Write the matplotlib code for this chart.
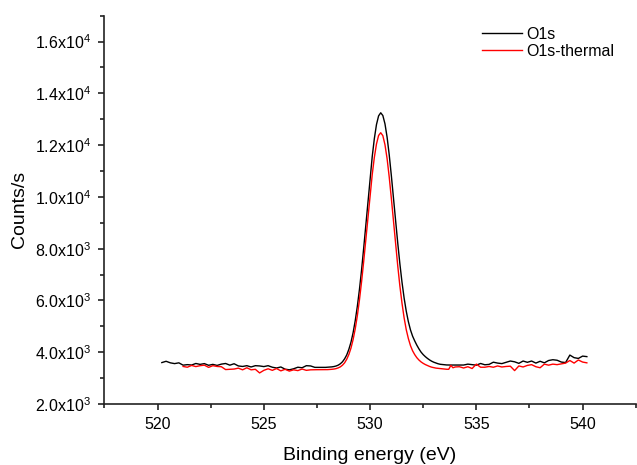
import numpy as np
import matplotlib
matplotlib.use("Agg")
import matplotlib.pyplot as plt
from matplotlib.ticker import MultipleLocator, FuncFormatter

plt.rcParams['font.family'] = ['Liberation Sans', 'DejaVu Sans']
plt.rcParams['mathtext.fontset'] = 'custom'
plt.rcParams['mathtext.rm'] = 'Liberation Sans'

# ---------------- data (binding energy in eV, counts/s) ----------------
x_black_left = np.round(np.arange(520.2, 527.21, 0.2), 2)
x_red_left = np.round(np.arange(521.2, 527.21, 0.2), 2)
x_peak = np.round(np.arange(527.4, 534.01, 0.1), 2)
x_right = np.round(np.arange(534.2, 540.21, 0.2), 2)

o1s_left = [3600, 3650, 3590, 3560, 3590, 3500, 3520, 3505, 3565, 3530,
            3560, 3495, 3530, 3490, 3540, 3565, 3500, 3555, 3470, 3450,
            3480, 3430, 3480, 3470, 3445, 3480, 3420, 3390, 3430, 3345,
            3320, 3360, 3420, 3400, 3480, 3470]

o1s_peak = [3415, 3415, 3415, 3415, 3415, 3415, 3421, 3426, 3434, 3447,
            3468, 3501, 3554, 3630, 3744, 3894, 4111, 4387, 4752, 5215,
            5775, 6433, 7189, 8034, 8926, 9839, 10733, 11557, 12254, 12795,
            13131, 13250, 13144, 12823, 12307, 11624, 10823, 9954, 9076, 8226,
            7425, 6713, 6099, 5592, 5183, 4862, 4620, 4436, 4271, 4127,
            4002, 3906, 3828, 3760, 3701, 3652, 3613, 3583, 3554, 3534,
            3525, 3515, 3508, 3505, 3505, 3505, 3505]

o1s_right = [3505, 3505, 3540, 3520, 3500, 3565, 3515, 3530, 3615, 3580,
             3560, 3610, 3660, 3630, 3570, 3660, 3610, 3660, 3580, 3650,
             3590, 3680, 3710, 3690, 3620, 3600, 3890, 3790, 3760, 3850,
             3830]

thermal_left = [3450, 3420, 3490, 3445, 3480, 3500, 3415, 3480, 3450, 3440,
                3330, 3340, 3350, 3385, 3320, 3400, 3320, 3340, 3200, 3300,
                3360, 3300, 3370, 3280, 3340, 3270, 3320, 3290, 3350, 3300,
                3320]

thermal_peak = [3325, 3325, 3325, 3325, 3325, 3325, 3328, 3333, 3340, 3350,
                3367, 3395, 3435, 3499, 3590, 3728, 3911, 4159, 4488, 4901,
                5413, 6027, 6732, 7520, 8363, 9223, 10075, 10862, 11530, 12043,
                12373, 12480, 12365, 12017, 11479, 10765, 9942, 9064, 8187, 7345,
                6568, 5900, 5333, 4876, 4529, 4255, 4054, 3907, 3788, 3697,
                3624, 3569, 3523, 3486, 3450, 3422, 3404, 3386, 3377, 3367,
                3358, 3349, 3342, 3340, 3490, 3400, 3430]

thermal_right = [3440, 3390, 3440, 3370, 3540, 3420, 3420, 3450, 3420, 3470,
                 3430, 3450, 3460, 3290, 3470, 3430, 3490, 3520, 3440, 3400,
                 3540, 3500, 3540, 3520, 3550, 3580, 3680, 3580, 3700, 3620,
                 3590]

series_labels = ["O1s", "O1s-thermal"]
x_label = "Binding energy (eV)"
y_label = "Counts/s"

# ---------------- plot ----------------
fig = plt.figure(figsize=(6.37, 4.65), dpi=100)
ax = fig.add_axes([0.164, 0.1312, 0.834, 0.835])

bx = np.concatenate([x_black_left, x_peak, x_right])
by = np.concatenate([o1s_left, o1s_peak, o1s_right])
rx = np.concatenate([x_red_left, x_peak, x_right])
ry = np.concatenate([thermal_left, thermal_peak, thermal_right])

ax.plot(bx, by, color='#000000', lw=1.0, label=series_labels[0])
ax.plot(rx, ry, color='#ff0000', lw=1.0, label=series_labels[1])

ax.set_xlim(517.5, 542.5)
ax.set_ylim(2000, 17000)

for s in ['top', 'right']:
    ax.spines[s].set_visible(False)
for s in ['left', 'bottom']:
    ax.spines[s].set_linewidth(1.2)
    ax.spines[s].set_color('#222222')

ax.xaxis.set_major_locator(MultipleLocator(5))
ax.xaxis.set_minor_locator(MultipleLocator(2.5))
ax.yaxis.set_major_locator(MultipleLocator(2000))
ax.yaxis.set_minor_locator(MultipleLocator(1000))


def yfmt(v, pos):
    if v <= 0:
        return ''
    e = int(np.floor(np.log10(v)))
    m = v / 10 ** e
    return f'{m:.1f}x10$\\mathregular{{^{e}}}$'


ax.yaxis.set_major_formatter(FuncFormatter(yfmt))
ax.tick_params(which='both', direction='out', width=1.2, color='#222222',
               labelsize=11.5, pad=5)
ax.tick_params(which='major', length=4.5)
ax.tick_params(which='minor', length=3)

ax.set_xlabel(x_label, fontsize=14, labelpad=11)
ax.set_ylabel(y_label, fontsize=14, labelpad=5)

ax.legend(loc='upper left', bbox_to_anchor=(0.71, 0.972), frameon=False,
          fontsize=11.5, handlelength=2.5, handletextpad=0.3, labelspacing=0.15,
          borderpad=0, borderaxespad=0)

fig.savefig('out.png', dpi=100)
